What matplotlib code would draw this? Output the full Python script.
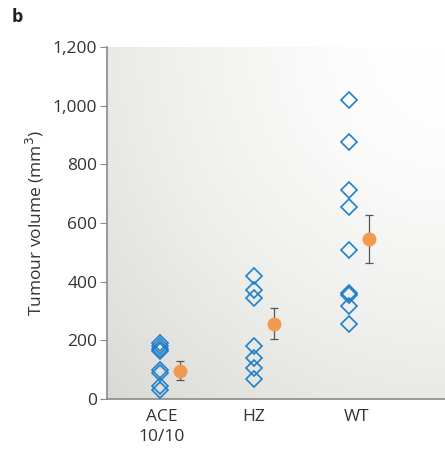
import matplotlib.pyplot as plt
import numpy as np

# --- data ---
groups = ['ACE\n10/10', 'HZ', 'WT']
ace = [190, 180, 172, 165, 100, 88, 45, 30]
hz = [420, 370, 345, 180, 140, 105, 68]
wt = [1018, 875, 712, 655, 508, 362, 355, 318, 255]
means = [96, 256, 547]
err_low = [31, 50, 84]
err_high = [33, 53, 80]

blue = '#1f7fcc'
orange = '#f29a4f'
gray = '#8a8a8a'

plt.rcParams['font.family'] = ['Open Sans', 'DejaVu Sans']

fig = plt.figure(figsize=(4.45, 4.5), dpi=100)
ax = fig.add_axes([0.2404, 0.1133, 0.7596, 0.7822])

# background gradient: white at top right, grey towards bottom left
gx, gy = np.meshgrid(np.linspace(0, 1, 200), np.linspace(0, 1, 200))
d = np.clip(np.sqrt((1 - gx) ** 2 + (1 - gy) ** 2) / 1.414, 0, 1)
lo = np.array([217, 218, 212]) / 255.0
hi = np.array([255, 255, 255]) / 255.0
img = hi + (lo - hi) * d[..., None] ** 1.6
ax.imshow(img, extent=[0, 1, 0, 1], origin='lower', transform=ax.transAxes,
          aspect='auto', zorder=0)

for i, vals in enumerate([ace, hz, wt]):
    ax.plot([i] * len(vals), vals, linestyle='none', marker='D', ms=8.2,
            mfc='none', mec=blue, mew=1.2, zorder=3)

xm = np.arange(3) + 0.21
ax.errorbar(xm, means, yerr=[err_low, err_high], fmt='none', ecolor='#555555',
            elinewidth=0.9, capsize=3.2, capthick=0.9, zorder=3)
ax.plot(xm, means, linestyle='none', marker='o', ms=9, color=orange, zorder=4)

ax.set_xlim(-0.56, 3.02)
ax.set_ylim(0, 1200)
ax.set_yticks(range(0, 1201, 200))
ax.set_yticklabels(['0', '200', '400', '600', '800', '1,000', '1,200'])
ax.set_xticks([0.02, 0.99, 2.08])
ax.set_xticklabels(groups, linespacing=1.35)

for s in ['top', 'right']:
    ax.spines[s].set_visible(False)
for s in ['left', 'bottom']:
    ax.spines[s].set_color(gray)
    ax.spines[s].set_linewidth(1.2)
ax.tick_params(axis='y', colors='#333333', labelsize=12.5, length=5, color=gray, pad=2)
ax.tick_params(axis='x', colors='#333333', labelsize=12.5, length=0, pad=7)
ax.set_ylabel('Tumour volume (mm$^3$)', fontsize=12.5, color='#333333', labelpad=5)

fig.text(0.027, 0.952, 'b', fontsize=13, fontweight='bold', color='#222222')

fig.savefig('out.png', dpi=100)
